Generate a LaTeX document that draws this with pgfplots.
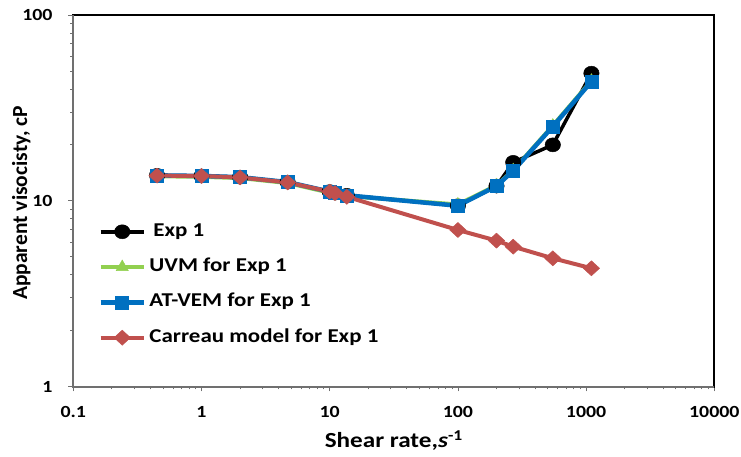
\documentclass[border=0pt]{standalone}
\usepackage{fontspec}
\setmainfont{Carlito}[FakeStretch=1.17]
\newfontfamily\yfont{Carlito}
\usepackage{pgfplots}
\pgfplotsset{compat=1.18}
\definecolor{exgreen}{HTML}{92D050}
\definecolor{exblue}{HTML}{0070C0}
\definecolor{exred}{HTML}{C0504D}
\definecolor{axgray}{HTML}{707070}
\begin{document}
\begin{tikzpicture}
\begin{axis}[
  scale only axis, width=641pt, height=371.5pt,
  xmode=log, ymode=log,
  xmin=0.1, xmax=10000, ymin=1, ymax=100,
  xtick={0.1,1,10,100,1000,10000},
  xticklabels={0.1,1,10,100,1000,10000},
  ytick={1,10,100}, yticklabels={1,10,100},
  minor xtick={}, minor ytick={},
  tick align=outside, tick pos=left, major tick length=5pt,
  every tick/.style={draw=axgray, line width=0.8pt},
  axis line style={line width=2pt, black},
  /pgf/number format/assume math mode=true,
  xticklabel style={font=\bfseries\fontsize{17}{17}\selectfont, anchor=center, inner sep=0pt, yshift=-20.5pt},
  yticklabel style={font=\bfseries\fontsize{17}{17}\selectfont, anchor=east, inner sep=0pt, xshift=-15.6pt},
  every axis x label/.style={at={(rel axis cs:0.5,0)}, anchor=center, yshift=-54pt, font=\bfseries\fontsize{21.5}{21.5}\selectfont},
  every axis y label/.style={at={(rel axis cs:0,0.5)}, xshift=-52pt, yshift=-2pt, anchor=center, rotate=90, font=\yfont\bfseries\fontsize{21.5}{21.5}\selectfont},
  xlabel={Shear rate,\textit{s}\textsuperscript{-1}},
  ylabel={Apparent visocisty, cP},
  clip=false,
  legend cell align=left,
  legend style={draw=none, fill=none, inner sep=0pt,
    at={(rel axis cs:0.039,0.274)}, anchor=west,
    font=\bfseries\fontsize{19.6}{19.6}\selectfont,
    nodes={inner sep=0pt, text height=13pt, text depth=4pt},
    row sep=18.3pt,
    /tikz/every odd column/.append style={column sep=3.5pt}},
  legend image code/.code={\draw[mark repeat=2,mark phase=2,#1] plot coordinates {(0pt,0pt) (21.5pt,0pt) (43pt,0pt)};},
]
\addplot[black, line width=3.5pt, mark=*, mark size=7pt, mark options={solid, line width=0.5pt, xscale=1.1}]
 coordinates {(0.45,13.7) (1,13.6) (2,13.4) (4.7,12.6) (10,11.2) (11,11.0) (13.6,10.7) (100,9.4) (200,12.0) (270,16.1) (550,20.0) (1100,48.6)};
\addlegendentry{\hspace{4pt}Exp 1}
\addplot[exgreen, line width=4pt, mark=triangle*, mark size=7pt, mark options={solid, line width=0.5pt}]
 coordinates {(0.45,13.55) (1,13.45) (2,13.25) (4.7,12.45) (10,11.05) (11,10.85) (13.6,10.6) (100,9.55) (200,12.1) (270,14.6) (550,25.4) (1100,44.3)};
\addlegendentry{UVM for Exp 1}
\addplot[exblue, line width=4.5pt, mark=square*, mark size=6.5pt, mark options={solid, line width=0.5pt}]
 coordinates {(0.45,13.7) (1,13.6) (2,13.4) (4.7,12.6) (10,11.2) (11,11.0) (13.6,10.7) (100,9.4) (200,12.0) (270,14.5) (550,25.1) (1100,43.8)};
\addlegendentry{AT-VEM for Exp 1}
\addplot[exred, line width=4pt, mark=diamond*, mark size=7.5pt, mark options={solid, line width=0.5pt, xscale=1.45}]
 coordinates {(0.45,13.65) (1,13.6) (2,13.35) (4.7,12.55) (10,11.2) (11,11.0) (13.6,10.5) (100,6.96) (200,6.1) (270,5.66) (550,4.9) (1100,4.33)};
\addlegendentry{Carreau model for Exp 1}
\draw[axgray, line width=2pt] (rel axis cs:0,1) -- (rel axis cs:0,0) -- (rel axis cs:1,0);
\end{axis}
\pgfresetboundingbox
\path (-73.3pt,-69.5pt) rectangle ++(741pt,456pt);
\end{tikzpicture}
\end{document}
